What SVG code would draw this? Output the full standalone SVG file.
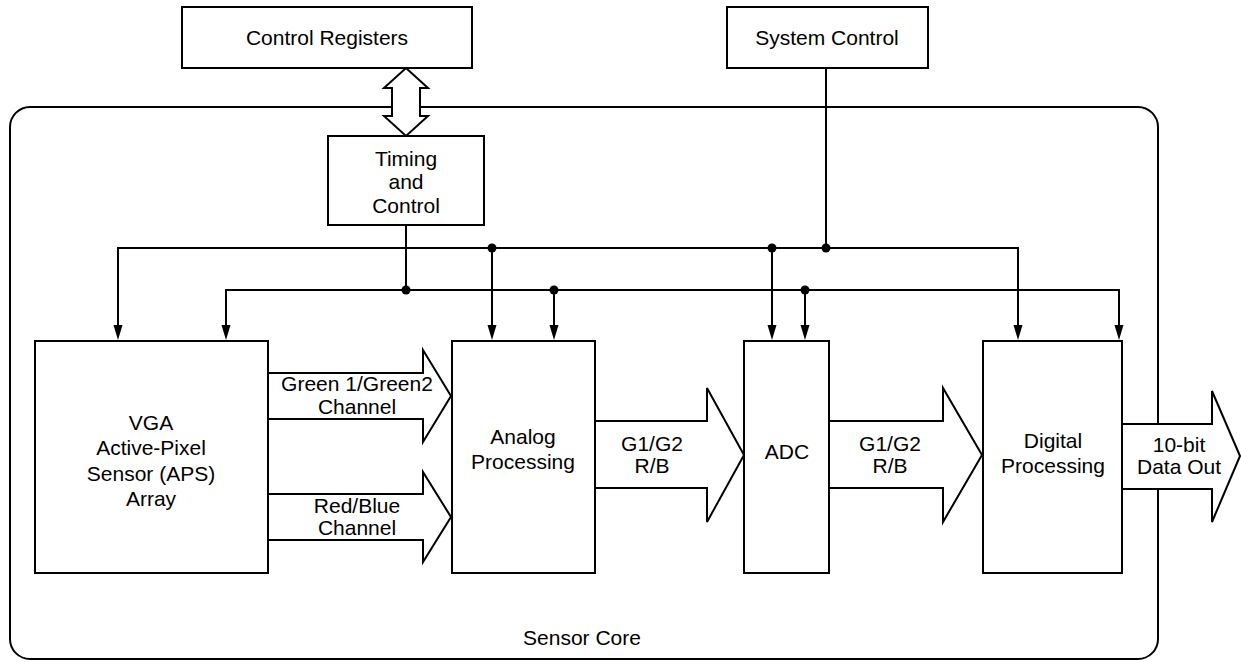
<svg xmlns="http://www.w3.org/2000/svg" width="1241" height="662" viewBox="0 0 1241 662">
<defs>
<path id="ah" d="M-4.5,-15 L4.5,-15 L0,0 Z"/>
<style>
.box{fill:#fff;stroke:#000;stroke-width:2}
.fat{fill:#fff;stroke:#000;stroke-width:2;stroke-linejoin:miter}
.ln{fill:none;stroke:#000;stroke-width:2}
.t{font-family:"Liberation Sans",Arial,Helvetica,sans-serif;font-size:21px;fill:#000;text-anchor:middle}
.dot{fill:#000}
</style>
</defs>
<rect width="1241" height="662" fill="#fff"/>

<g id="sensor-core">
<rect x="10" y="107" width="1148" height="552" rx="20" ry="20" class="ln"/>
<text class="t" x="582" y="645">Sensor Core</text>
</g>

<g id="control-registers">
<rect x="182" y="7" width="290" height="61" class="box"/>
<text class="t" x="327" y="45">Control Registers</text>
</g>

<g id="system-control">
<rect x="727" y="7" width="201" height="61" class="box"/>
<text class="t" x="827" y="45">System Control</text>
</g>

<g id="connectors">
<polygon class="fat" points="406,68 428,88 420,88 420,116 428,116 406,136 384,116 392,116 392,88 384,88"/>
<path class="ln" d="M406,225 V290"/>
<path class="ln" d="M826,68 V248"/>
<path class="ln" d="M118,328 V248 H1018 V328"/>
<path class="ln" d="M226,328 V290 H1119 V328"/>
<path class="ln" d="M492,248 V328"/>
<path class="ln" d="M554,290 V328"/>
<path class="ln" d="M772,248 V328"/>
<path class="ln" d="M805,290 V328"/>
<use href="#ah" x="118" y="340"/>
<use href="#ah" x="226" y="340"/>
<use href="#ah" x="492" y="340"/>
<use href="#ah" x="554" y="340"/>
<use href="#ah" x="772" y="340"/>
<use href="#ah" x="805" y="340"/>
<use href="#ah" x="1018" y="340"/>
<use href="#ah" x="1119" y="340"/>
<circle class="dot" cx="492" cy="248" r="4.5"/>
<circle class="dot" cx="772" cy="248" r="4.5"/>
<circle class="dot" cx="826" cy="248" r="4.5"/>
<circle class="dot" cx="406" cy="290" r="4.5"/>
<circle class="dot" cx="554" cy="290" r="4.5"/>
<circle class="dot" cx="805" cy="290" r="4.5"/>

<polyline class="fat" points="268,373 423,373 423,350 451,396 423,442 423,419 268,419"/>
<text class="t" x="357" y="391">Green 1/Green2</text>
<text class="t" x="357" y="414">Channel</text>

<polyline class="fat" points="268,494 423,494 423,472 451,517 423,562 423,540 268,540"/>
<text class="t" x="357" y="513">Red/Blue</text>
<text class="t" x="357" y="535">Channel</text>

<polyline class="fat" points="595,421 707,421 707,388 744,455 707,522 707,488 595,488"/>
<text class="t" x="652" y="451">G1/G2</text>
<text class="t" x="652" y="473">R/B</text>

<polyline class="fat" points="829,421 943,421 943,388 982,455 943,522 943,488 829,488"/>
<text class="t" x="890" y="451">G1/G2</text>
<text class="t" x="890" y="473">R/B</text>

<polyline class="fat" points="1122,424 1212,424 1212,391 1240,456 1212,522 1212,489 1122,489"/>
<text class="t" x="1179" y="452">10-bit</text>
<text class="t" x="1179" y="474">Data Out</text>
</g>

<g id="timing-control">
<rect x="328" y="136" width="156" height="89" class="box"/>
<text class="t" x="406" y="166">Timing</text>
<text class="t" x="406" y="189">and</text>
<text class="t" x="406" y="213">Control</text>
</g>

<g id="vga-aps">
<rect x="35" y="341" width="233" height="232" class="box"/>
<text class="t" x="151" y="430">VGA</text>
<text class="t" x="151" y="455">Active-Pixel</text>
<text class="t" x="151" y="481">Sensor (APS)</text>
<text class="t" x="151" y="506">Array</text>
</g>

<g id="analog-processing">
<rect x="452" y="341" width="143" height="232" class="box"/>
<text class="t" x="523" y="444">Analog</text>
<text class="t" x="523" y="469">Processing</text>
</g>

<g id="adc">
<rect x="744" y="341" width="85" height="232" class="box"/>
<text class="t" x="787" y="459">ADC</text>
</g>

<g id="digital-processing">
<rect x="983" y="341" width="139" height="232" class="box"/>
<text class="t" x="1053" y="448">Digital</text>
<text class="t" x="1053" y="473">Processing</text>
</g>
</svg>
